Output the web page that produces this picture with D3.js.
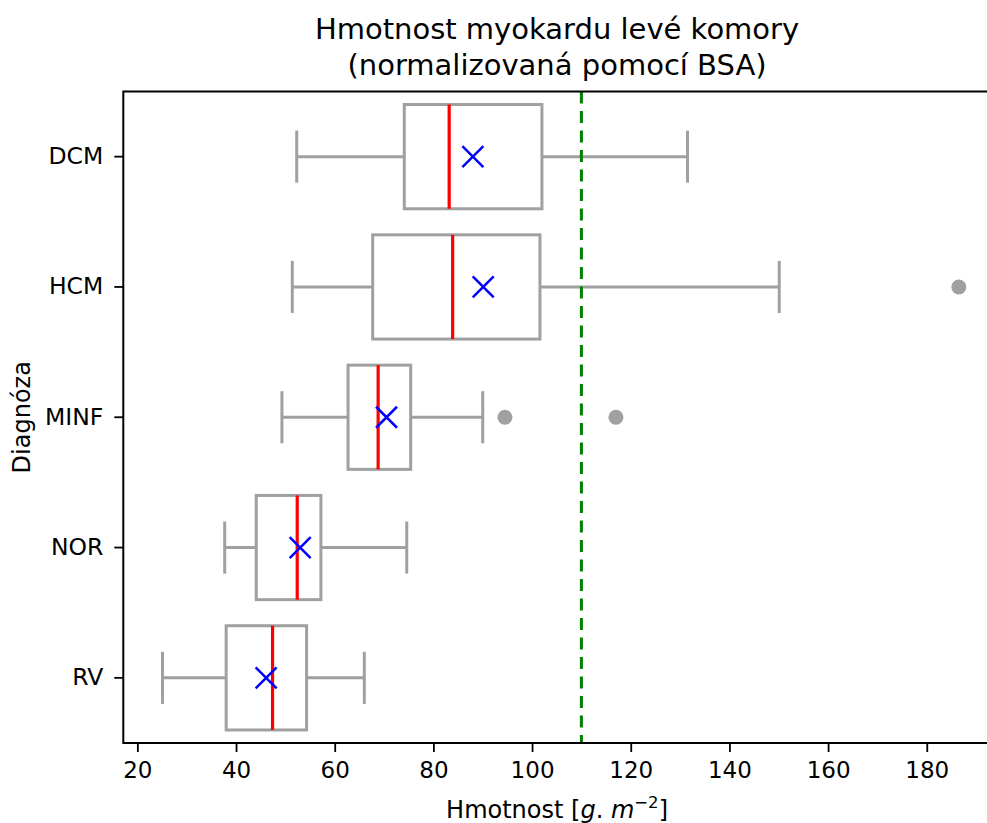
<!DOCTYPE html>
<html>
<head>
<meta charset="utf-8">
<script src="https://d3js.org/d3.v7.min.js"></script>
<style>
    body { margin: 0; background: #fff; }
    text { font-family: "DejaVu Sans", sans-serif; fill: #000; }
    .axis path, .axis line { stroke: #000; }
</style>
</head>
<body>
<div id="chart-container"></div>
<script>
    // Values
    const categories = ['DCM', 'HCM', 'MINF', 'NOR', 'RV'];
    const whiskerLow = [52.3, 51.4, 49.3, 37.7, 25.1];
    const q1 = [74.1, 67.7, 62.7, 44.1, 38.0];
    const medians = [83.2, 83.9, 68.8, 52.4, 47.4];
    const q3 = [102.0, 101.6, 75.4, 57.2, 54.3];
    const whiskerHigh = [131.5, 150.1, 90.0, 74.6, 66.0];
    const means = [88.0, 90.1, 70.5, 53.0, 46.1];
    const outliers = [[], [186.5], [94.5, 117.0], [], []];
    const threshold = 110;
    const xTicks = [20, 40, 60, 80, 100, 120, 140, 160, 180];

    const width = 987, height = 823;
    const plot = { left: 123.3, right: 998.8, top: 91.5, bottom: 743 };

    const data = categories.map((c, i) => ({
        cat: c, lo: whiskerLow[i], q1: q1[i], med: medians[i],
        q3: q3[i], hi: whiskerHigh[i], mean: means[i], out: outliers[i]
    }));

    const svg = d3.select('#chart-container')
        .append('svg')
        .attr('width', width)
        .attr('height', height);

    const x = d3.scaleLinear()
        .domain([17.15, 194.6])
        .range([plot.left, plot.right]);

    const y = d3.scaleBand()
        .domain(categories)
        .range([plot.top, plot.bottom]);

    const band = y.bandwidth();
    const boxH = band * 0.8;
    const capH = band * 0.4;
    const grey = '#a0a0a0';

    const g = svg.append('g');

    const boxes = g.selectAll('.box')
        .data(data)
        .enter()
        .append('g')
        .attr('class', 'box')
        .attr('transform', d => `translate(0,${y(d.cat) + band / 2})`);

    // whiskers
    boxes.append('line')
        .attr('x1', d => x(d.lo)).attr('x2', d => x(d.q1))
        .attr('stroke', grey).attr('stroke-width', 3);
    boxes.append('line')
        .attr('x1', d => x(d.q3)).attr('x2', d => x(d.hi))
        .attr('stroke', grey).attr('stroke-width', 3);

    // caps
    boxes.append('line')
        .attr('x1', d => x(d.lo)).attr('x2', d => x(d.lo))
        .attr('y1', -capH / 2).attr('y2', capH / 2)
        .attr('stroke', grey).attr('stroke-width', 3);
    boxes.append('line')
        .attr('x1', d => x(d.hi)).attr('x2', d => x(d.hi))
        .attr('y1', -capH / 2).attr('y2', capH / 2)
        .attr('stroke', grey).attr('stroke-width', 3);

    // box
    boxes.append('rect')
        .attr('x', d => x(d.q1))
        .attr('y', -boxH / 2)
        .attr('width', d => x(d.q3) - x(d.q1))
        .attr('height', boxH)
        .attr('fill', 'none')
        .attr('stroke', grey)
        .attr('stroke-width', 3);

    // median
    boxes.append('line')
        .attr('x1', d => x(d.med)).attr('x2', d => x(d.med))
        .attr('y1', -boxH / 2).attr('y2', boxH / 2)
        .attr('stroke', 'red').attr('stroke-width', 3.2);

    // mean marker (x)
    const m = 10.5;
    boxes.append('path')
        .attr('d', d => `M${x(d.mean) - m},${-m}L${x(d.mean) + m},${m}M${x(d.mean) - m},${m}L${x(d.mean) + m},${-m}`)
        .attr('stroke', 'blue').attr('stroke-width', 2.5).attr('fill', 'none');

    // outliers
    boxes.selectAll('.flier')
        .data(d => d.out)
        .enter()
        .append('circle')
        .attr('class', 'flier')
        .attr('cx', d => x(d))
        .attr('cy', 0)
        .attr('r', 7.5)
        .attr('fill', grey);

    // threshold
    g.append('line')
        .attr('x1', x(threshold)).attr('x2', x(threshold))
        .attr('y1', plot.top).attr('y2', plot.bottom)
        .attr('stroke', 'green')
        .attr('stroke-width', 3)
        .attr('stroke-dasharray', '12,7.5');

    // axes
    svg.append('g')
        .attr('class', 'axis')
        .attr('transform', `translate(0,${plot.bottom})`)
        .call(d3.axisBottom(x).tickValues(xTicks).tickSize(9).tickPadding(10).tickSizeOuter(0))
        .call(a => a.select('.domain').remove())
        .selectAll('text')
        .style('font-size', '23px');

    svg.append('g')
        .attr('class', 'axis')
        .attr('transform', `translate(${plot.left},0)`)
        .call(d3.axisLeft(y).tickSize(9).tickPadding(11).tickSizeOuter(0))
        .call(a => a.select('.domain').remove())
        .selectAll('text')
        .style('font-size', '23.5px');

    svg.selectAll('.axis line').attr('stroke-width', 1.8);

    // frame
    svg.append('rect')
        .attr('x', plot.left).attr('y', plot.top)
        .attr('width', plot.right - plot.left)
        .attr('height', plot.bottom - plot.top)
        .attr('fill', 'none')
        .attr('stroke', '#000')
        .attr('stroke-width', 2);

    // title and labels
    const cx = (plot.left + plot.right) / 2 - 4;
    svg.append('text')
        .attr('x', cx).attr('y', 39)
        .attr('text-anchor', 'middle')
        .style('font-size', '29px')
        .text('Hmotnost myokardu levé komory');
    svg.append('text')
        .attr('x', cx).attr('y', 75)
        .attr('text-anchor', 'middle')
        .style('font-size', '29px')
        .text('(normalizovaná pomocí BSA)');

    const xl = svg.append('text')
        .attr('x', cx).attr('y', 818)
        .attr('text-anchor', 'middle')
        .style('font-size', '24px');
    xl.append('tspan').text('Hmotnost [');
    xl.append('tspan').style('font-style', 'italic').text('g');
    xl.append('tspan').text('.');
    xl.append('tspan').style('font-style', 'italic').text(' m');
    xl.append('tspan').attr('dy', -10).style('font-size', '16.5px').text('−2');
    xl.append('tspan').attr('dy', 10).text(']');

    svg.append('text')
        .attr('transform', `translate(30,${(plot.top + plot.bottom) / 2}) rotate(-90)`)
        .attr('text-anchor', 'middle')
        .style('font-size', '24px')
        .text('Diagnóza');
</script>
</body>
</html>
